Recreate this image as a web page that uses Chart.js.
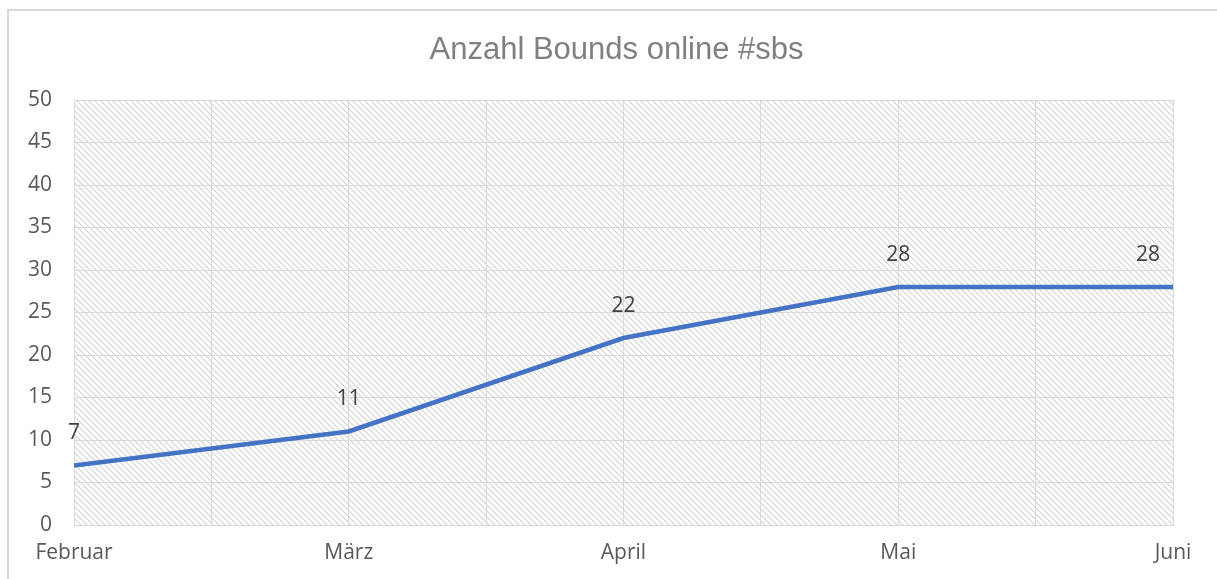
<!DOCTYPE html>
<html>
<head>
<meta charset="utf-8">
<title>Anzahl Bounds online #sbs</title>
<script src="https://cdn.jsdelivr.net/npm/chart.js@4/dist/chart.umd.min.js"></script>
<style>
	html, body { margin: 0; padding: 0; background: #fff; overflow: hidden; }
	#frame { position: absolute; left: 7px; top: 9px; width: 1260px; height: 620px; border: 2px solid #d9d9d9; box-sizing: border-box; }
	#mycanvas { position: absolute; left: 0; top: 0; }
</style>
</head>
<body>
<div id="frame"></div>
<canvas id="mycanvas" width="1217" height="579"></canvas>
<script>
// chart data
var chartTitle = "Anzahl Bounds online #sbs";
var months = ["Februar", "März", "April", "Mai", "Juni"];
var bounds = [7, 11, 22, 28, 28];
var yTicks = [0, 5, 10, 15, 20, 25, 30, 35, 40, 45, 50];

var points = [];
for (var i in months) {
	points.push({ x: Number(i), y: bounds[i] });
}

// diagonal hatch for the plot area
var tile = document.createElement("canvas");
tile.width = 6;
tile.height = 6;
var tctx = tile.getContext("2d");
tctx.fillStyle = "#ffffff";
tctx.fillRect(0, 0, 6, 6);
tctx.strokeStyle = "#d4d4d4";
tctx.lineWidth = 1.2;
tctx.beginPath();
tctx.moveTo(-6, -6); tctx.lineTo(12, 12);
tctx.moveTo(-6, 0); tctx.lineTo(6, 12);
tctx.moveTo(0, -6); tctx.lineTo(12, 6);
tctx.stroke();

var hatch = {
	id: "hatch",
	beforeDraw: function(chart) {
		var a = chart.chartArea;
		var c = chart.ctx;
		c.save();
		c.fillStyle = c.createPattern(tile, "repeat");
		c.fillRect(a.left, a.top, a.right - a.left, a.bottom - a.top);
		c.restore();
	}
};

// title drawn by hand, a bit left of the plot centre like the original
var titlePlugin = {
	id: "titlePlugin",
	afterDraw: function(chart) {
		var a = chart.chartArea;
		var c = chart.ctx;
		c.save();
		c.font = "31px 'Liberation Sans', Arial, sans-serif";
		c.fillStyle = "#808080";
		c.textAlign = "center";
		c.textBaseline = "middle";
		c.fillText(chartTitle, (a.left + a.right) / 2 - 7, a.top - 50);
		c.restore();
	}
};

var valueLabels = {
	id: "valueLabels",
	afterDatasetsDraw: function(chart) {
		var c = chart.ctx;
		var a = chart.chartArea;
		var meta = chart.getDatasetMeta(0);
		c.save();
		c.font = "21px 'Open Sans'";
		c.fillStyle = "#404040";
		c.textAlign = "center";
		c.textBaseline = "middle";
		meta.data.forEach(function(p, i) {
			var txt = String(bounds[i]);
			var w = c.measureText(txt).width;
			var x = p.x;
			if (x + w / 2 > a.right) x = a.right - w / 2 - 13;
			c.fillText(txt, x, p.y - 32);
		});
		c.restore();
	}
};

var ctx = document.getElementById("mycanvas");

var LineGraph = new Chart(ctx, {
	type: 'line',
	data: {
		datasets: [
			{
				label: "Bounds",
				data: points,
				borderColor: "#4472c4",
				backgroundColor: "#4472c4",
				borderWidth: 4.5,
				pointRadius: 0,
				pointHoverRadius: 0,
				fill: false,
				tension: 0
			}
		]
	},
	options: {
		responsive: false,
		animation: false,
		devicePixelRatio: 1,
		layout: {
			padding: { left: 0, right: 44, top: 100, bottom: 14 }
		},
		plugins: {
			legend: { display: false },
			tooltip: { enabled: false },
			title: { display: false }
		},
		scales: {
			x: {
				type: 'linear',
				min: 0,
				max: months.length - 1,
				afterBuildTicks: function(scale) {
					var t = [];
					for (var k = 0; k <= (months.length - 1) * 2; k++) t.push({ value: k / 2 });
					scale.ticks = t;
				},
				afterFit: function(scale) {
					scale.height = 40;
				},
				ticks: {
					autoSkip: false,
					maxRotation: 0,
					padding: 15,
					color: "#595959",
					font: { family: "'Open Sans'", size: 21 },
					callback: function(v) {
						return Number.isInteger(v) ? months[v] : "";
					}
				},
				grid: { color: "#d9d9d9", lineWidth: 1, drawTicks: false },
				border: { color: "#d9d9d9", width: 1 }
			},
			y: {
				min: yTicks[0],
				max: yTicks[yTicks.length - 1],
				afterBuildTicks: function(scale) {
					scale.ticks = yTicks.map(function(v) { return { value: v }; });
				},
				afterFit: function(scale) {
					scale.width = 74;
				},
				ticks: {
					padding: 22,
					color: "#595959",
					font: { family: "'Open Sans'", size: 21 }
				},
				grid: { color: "#d9d9d9", lineWidth: 1, drawTicks: false },
				border: { color: "#d9d9d9", width: 1 }
			}
		}
	},
	plugins: [hatch, valueLabels, titlePlugin]
});
</script>
</body>
</html>
